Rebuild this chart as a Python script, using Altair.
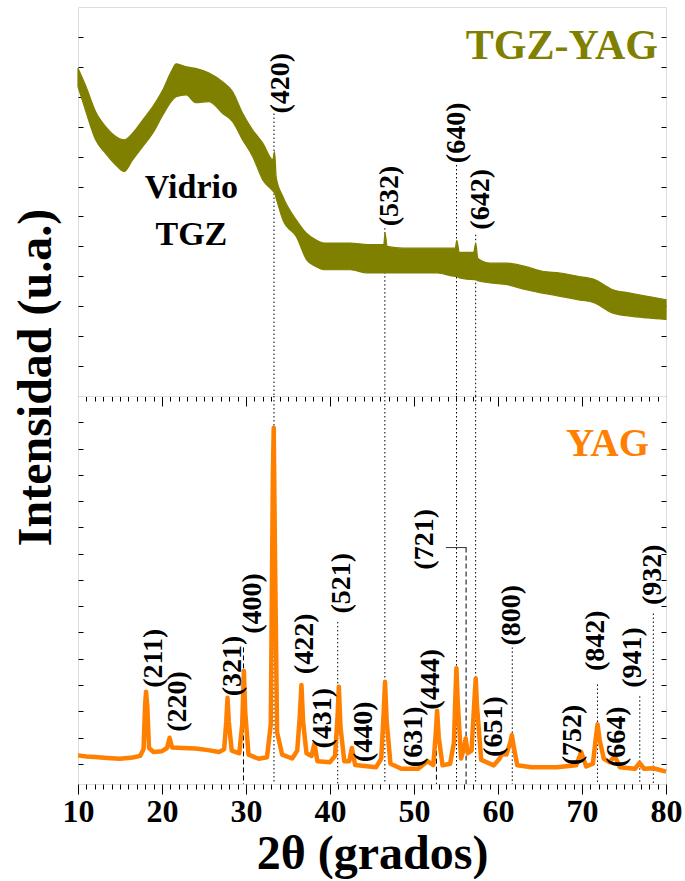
import altair as alt
import pandas as pd

SERIF = "Liberation Serif"
OLIVE = "#808000"
ORANGE = "#ff8000"

# ---------------- data ----------------
# TGZ-YAG glass-ceramic: upper and lower edge of the noisy trace
tgz_2theta = [10.0, 10.95, 12.1, 13.3, 14.5, 15.5, 16.5, 17.7, 18.9, 20.1,
              21.1, 21.7, 22.9, 24.0, 25.6, 27.2, 28.4, 29.6, 30.8, 32.0,
              33.2, 33.4, 33.6, 34.4, 36.0, 37.2, 38.3, 39.3, 42.4, 44.5,
              46.4, 46.55, 46.8, 48.7, 52.8, 54.9, 55.1, 55.4, 57.1, 57.35,
              57.6, 59.1, 61.1, 63.2, 65.3, 67.4, 69.5, 71.5, 73.6, 75.7,
              77.8, 80.0]
tgz_upper = [10.95, 10.34, 9.5, 9.0, 8.67, 8.56, 8.78, 9.22, 9.67, 10.23,
             10.84, 11.1, 11.0, 10.95, 10.79, 10.5, 10.17, 9.45, 8.89, 8.45,
             7.9, 8.17, 7.3, 6.66, 5.88, 5.44, 5.22, 5.11, 5.11, 5.06,
             5.06, 5.45, 5.0, 4.94, 4.94, 4.94, 5.2, 4.8, 4.8, 5.1,
             4.6, 4.44, 4.44, 4.33, 4.17, 4.11, 4.0, 3.89, 3.56, 3.44,
             3.33, 3.22]
tgz_lower = [10.34, 9.5, 8.56, 8.1, 7.72, 7.5, 7.89, 8.33, 8.78, 9.39,
             9.84, 10.0, 10.06, 9.8, 9.84, 9.45, 9.17, 8.56, 8.0, 7.22,
             6.85, 6.78, 6.6, 5.88, 5.32, 4.56, 4.33, 4.22, 4.22, 4.11,
             4.11, 4.11, 4.11, 4.11, 4.11, 4.0, 4.0, 3.95, 3.89, 3.89,
             3.85, 3.78, 3.72, 3.56, 3.44, 3.33, 3.22, 3.11, 2.78, 2.67,
             2.61, 2.56]

# YAG powder pattern
yag_2theta = [10.0, 11.0, 12.0, 13.5, 15.0, 16.5, 17.4, 17.8, 18.0, 18.1,
              18.25, 18.45, 19.0, 20.0, 20.6, 20.9, 21.2, 22.5, 24.0, 25.5,
              26.8, 27.4, 27.65, 27.8, 27.95, 28.3, 29.2, 29.55, 29.75, 29.9,
              30.3, 31.5, 32.5, 32.95, 33.2, 33.3, 33.45, 33.7, 34.3, 35.5,
              36.1, 36.4, 36.6, 36.8, 37.2, 37.8, 38.15, 38.5, 40.0, 40.6,
              40.9, 41.05, 41.25, 41.7, 42.3, 42.6, 43.0, 45.5, 46.1, 46.4,
              46.55, 46.75, 47.2, 48.5, 50.5, 51.6, 52.3, 52.6, 52.75, 52.95,
              53.4, 54.3, 54.75, 54.95, 55.05, 55.2, 55.6, 55.95, 56.15, 56.4,
              56.85, 57.15, 57.35, 57.5, 58.0, 59.5, 60.2, 60.5, 61.0, 61.45,
              61.65, 61.9, 62.3, 64.0, 67.0, 69.3, 69.9, 70.5, 71.3, 71.65,
              71.85, 72.1, 72.6, 73.3, 73.9, 74.5, 76.3, 76.85, 77.4, 78.5,
              80.0]
yag_counts = [0.32, 0.28, 0.26, 0.22, 0.19, 0.24, 0.30, 0.55, 2.3, 2.74,
              2.2, 0.6, 0.45, 0.48, 0.6, 0.99, 0.62, 0.6, 0.58, 0.52,
              0.45, 0.55, 1.6, 2.51, 1.6, 0.5, 0.4, 1.5, 3.53, 2.0,
              0.35, 0.19, 0.25, 1.5, 11.0, 12.79, 8.0, 1.2, 0.35, 0.2,
              0.5, 1.8, 3.0, 1.6, 0.4, 0.3, 0.77, 0.1, 0.06, 0.3,
              1.8, 2.93, 1.4, 0.1, 0.1, 0.6, -0.05, -0.13, 0.2, 2.0,
              3.12, 1.6, 0.0, -0.19, -0.19, 0.1, -0.05, 1.2, 2.02, 1.0,
              -0.06, 0.0, 0.8, 2.8, 3.64, 2.4, 0.2, 0.6, 0.96, 0.4,
              0.5, 2.2, 3.25, 2.2, 0.15, -0.06, 0.2, 0.39, 0.35, 0.8,
              1.09, 0.6, -0.06, -0.13, -0.13, -0.06, 0.45, -0.1, 0.0, 1.0,
              1.5, 0.9, 0.19, 0.06, 0.3, -0.13, -0.19, 0.03, -0.19, -0.17,
              -0.3]

# reflections indexed on the TGZ-YAG trace
tgz_hkl = ["(420)", "(532)", "(640)", "(642)"]
tgz_hkl_x = [34.11, 47.1, 55.16, 58.02]
tgz_hkl_y = [9.44, 5.67, 7.78, 5.56]
tgz_mark_x = [33.33, 46.53, 55.06, 57.34]
tgz_mark_top = [9.44, 5.61, 7.72, 5.39]

# reflections indexed on the YAG pattern
yag_hkl = ["(211)", "(220)", "(321)", "(400)", "(422)", "(431)", "(521)",
           "(440)", "(631)", "(444)", "(721)", "(651)", "(800)", "(752)",
           "(842)", "(664)", "(941)", "(932)"]
yag_hkl_x = [19.04, 21.9, 28.4, 30.89, 36.97, 39.15, 41.39, 43.99, 49.96,
             52.04, 51.26, 59.58, 61.65, 68.93, 71.63, 74.13, 76.05, 78.44]
yag_hkl_y = [2.89, 1.22, 2.57, 4.95, 3.41, 0.58, 5.72, 0.06, -0.13, 2.06,
             7.39, 0.26, 4.50, -0.06, 3.53, -0.13, 2.89, 6.04]

# guide lines in the YAG panel
yag_mark_x = [33.33, 46.53, 55.06, 57.34, 29.7, 40.92, 52.67, 56.2,
              61.7, 71.84, 76.88, 78.49]
yag_mark_top = [14.0, 14.0, 14.0, 14.0, 4.43, 5.40, 2.02, 8.23,
                4.43, 3.02, 2.57, 5.72]
yag_mark_style = ["dotted", "dotted", "dotted", "dotted", "dashed", "dotted",
                  "dashed", "dashed", "dotted", "dotted", "dotted", "dotted"]
# short leader joining the (721) label to its line
leader_x = [53.8]
leader_x2 = [56.27]
leader_y = [8.23]

X_DOM = [10, 80]
TOP_DOM = [0, 13]
BOT_DOM = [-0.77, 14.0]
W = 588
H_TOP = 389
H_BOT = 388

minor_ticks = list(range(10, 81))
tick_len = {"condition": {"test": "datum.value % 10 === 0", "value": 10}, "value": 5}

# ---------------- axes ----------------
x_top_axis = alt.Axis(values=minor_ticks, tickSize=tick_len, labels=False,
                      domain=False, title=None, grid=False,
                      tickColor="black", tickWidth=1)
x_bot_axis = alt.Axis(values=minor_ticks, tickSize=tick_len, domain=False, grid=False,
                      tickColor="black", tickWidth=1,
                      labelExpr="datum.value % 10 === 0 ? datum.label : ''",
                      labelFont=SERIF, labelFontSize=32, labelFontWeight="bold",
                      labelColor="black", labelPadding=2, labelOverlap=False,
                      labelFlush=False, labelBound=False,
                      title="2θ (grados)", titleFont=SERIF, titleFontSize=48,
                      titleFontWeight="bold", titleColor="black", titlePadding=3)


def y_axis(orient, values, **kw):
    return alt.Axis(orient=orient, values=values, tickSize=5, offset=-5,
                    labels=False, domain=False, grid=False,
                    tickColor="black", tickWidth=1, **kw)


top_vals = list(range(1, 13))
bot_vals = list(range(0, 14))

xs = alt.Scale(domain=X_DOM, nice=False, zero=False)
ys_top = alt.Scale(domain=TOP_DOM, nice=False, zero=False)
ys_bot = alt.Scale(domain=BOT_DOM, nice=False, zero=False)

# ---------------- upper panel: TGZ-YAG ----------------
tgz_df = pd.DataFrame({"x": tgz_2theta, "hi": tgz_upper, "lo": tgz_lower})
tgz_lbl_df = pd.DataFrame({"t": tgz_hkl, "x": tgz_hkl_x, "y": tgz_hkl_y})
tgz_line_df = pd.DataFrame({"x": tgz_mark_x, "top": tgz_mark_top})

top_rules = alt.Chart(tgz_line_df).mark_rule(
    color="black", strokeWidth=1, strokeDash=[1.5, 2.5]
).encode(
    x=alt.X("x:Q", scale=xs, axis=x_top_axis),
    y=alt.Y("top:Q", scale=ys_top, axis=None),
    y2=alt.datum(0),
)

top_area = alt.Chart(tgz_df).mark_area(
    color=OLIVE, stroke=OLIVE, strokeWidth=1.2, opacity=1, interpolate="monotone"
).encode(
    x=alt.X("x:Q", scale=xs, axis=x_top_axis),
    y=alt.Y("hi:Q", scale=ys_top, axis=y_axis("left", top_vals, title=None)),
    y2="lo:Q",
)

top_labels = alt.Chart(tgz_lbl_df).mark_text(
    angle=270, align="left", baseline="middle", font=SERIF,
    fontSize=28, fontWeight="bold", color="black"
).encode(
    x=alt.X("x:Q", scale=xs, axis=x_top_axis),
    y=alt.Y("y:Q", scale=ys_top, axis=y_axis("right", top_vals, title=None)),
    text="t:N",
)

top_name = alt.Chart(pd.DataFrame({"t": ["TGZ-YAG"], "x": [79.05], "y": [11.27]})).mark_text(
    align="right", baseline="alphabetic", font=SERIF, fontSize=42,
    fontWeight="bold", color=OLIVE
).encode(
    x=alt.X("x:Q", scale=xs, axis=x_top_axis),
    y=alt.Y("y:Q", scale=ys_top, axis=None),
    text="t:N",
)

glass_name = alt.Chart(pd.DataFrame({"t": ["Vidrio", "TGZ"], "x": [23.5, 23.5],
                                     "y": [6.62, 5.05]})).mark_text(
    align="center", baseline="alphabetic", font=SERIF, fontSize=34,
    fontWeight="bold", color="black"
).encode(
    x=alt.X("x:Q", scale=xs, axis=x_top_axis),
    y=alt.Y("y:Q", scale=ys_top, axis=None),
    text="t:N",
)

top = alt.layer(top_rules, top_area, top_labels, top_name, glass_name).resolve_axis(
    y="independent"
).properties(width=W, height=H_TOP)

# ---------------- lower panel: YAG ----------------
yag_df = pd.DataFrame({"x": yag_2theta, "y": yag_counts})
yag_lbl_df = pd.DataFrame({"t": yag_hkl, "x": yag_hkl_x, "y": yag_hkl_y})
yag_line_df = pd.DataFrame({"x": yag_mark_x, "top": yag_mark_top, "s": yag_mark_style})
leader_df = pd.DataFrame({"x": leader_x, "x2": leader_x2, "y": leader_y})

bot_rules = alt.Chart(yag_line_df).mark_rule(color="black", strokeWidth=1).encode(
    x=alt.X("x:Q", scale=xs, axis=x_bot_axis),
    y=alt.Y("top:Q", scale=ys_bot, axis=None),
    y2=alt.datum(BOT_DOM[0]),
    strokeDash=alt.StrokeDash("s:N", legend=None, scale=alt.Scale(
        domain=["dotted", "dashed"], range=[[1.5, 2.5], [5, 3]])),
)

bot_leader = alt.Chart(leader_df).mark_rule(color="#333333", strokeWidth=1).encode(
    x=alt.X("x:Q", scale=xs, axis=x_bot_axis),
    x2="x2:Q",
    y=alt.Y("y:Q", scale=ys_bot, axis=None),
)

bot_line = alt.Chart(yag_df).mark_line(
    color=ORANGE, strokeWidth=4.5, strokeJoin="round"
).encode(
    x=alt.X("x:Q", scale=xs, axis=x_bot_axis),
    y=alt.Y("y:Q", scale=ys_bot, axis=y_axis(
        "left", bot_vals, title="Intensidad (u.a.)", titleFont=SERIF,
        titleFontSize=48, titleFontWeight="bold", titleColor="black",
        titleAngle=270, titleAlign="center", titleBaseline="middle",
        titleX=-47, titleY=-19)),
)

bot_labels = alt.Chart(yag_lbl_df).mark_text(
    angle=270, align="left", baseline="middle", font=SERIF,
    fontSize=28, fontWeight="bold", color="black"
).encode(
    x=alt.X("x:Q", scale=xs, axis=x_bot_axis),
    y=alt.Y("y:Q", scale=ys_bot, axis=y_axis("right", bot_vals, title=None)),
    text="t:N",
)

bot_name = alt.Chart(pd.DataFrame({"t": ["YAG"], "x": [77.98], "y": [11.71]})).mark_text(
    align="right", baseline="alphabetic", font=SERIF, fontSize=39,
    fontWeight="bold", color=ORANGE
).encode(
    x=alt.X("x:Q", scale=xs, axis=x_bot_axis),
    y=alt.Y("y:Q", scale=ys_bot, axis=None),
    text="t:N",
)

bottom = alt.layer(bot_rules, bot_leader, bot_line, bot_labels, bot_name).resolve_axis(
    y="independent"
).properties(width=W, height=H_BOT)

chart = alt.vconcat(top, bottom, spacing=0, bounds="flush").properties(
    padding={"left": 11, "top": 6, "right": 0, "bottom": 0}
).configure_view(
    stroke="black", strokeWidth=1.5
).configure(background="white")

chart.save("out.html", embed_options={"renderer": "svg", "actions": False})
